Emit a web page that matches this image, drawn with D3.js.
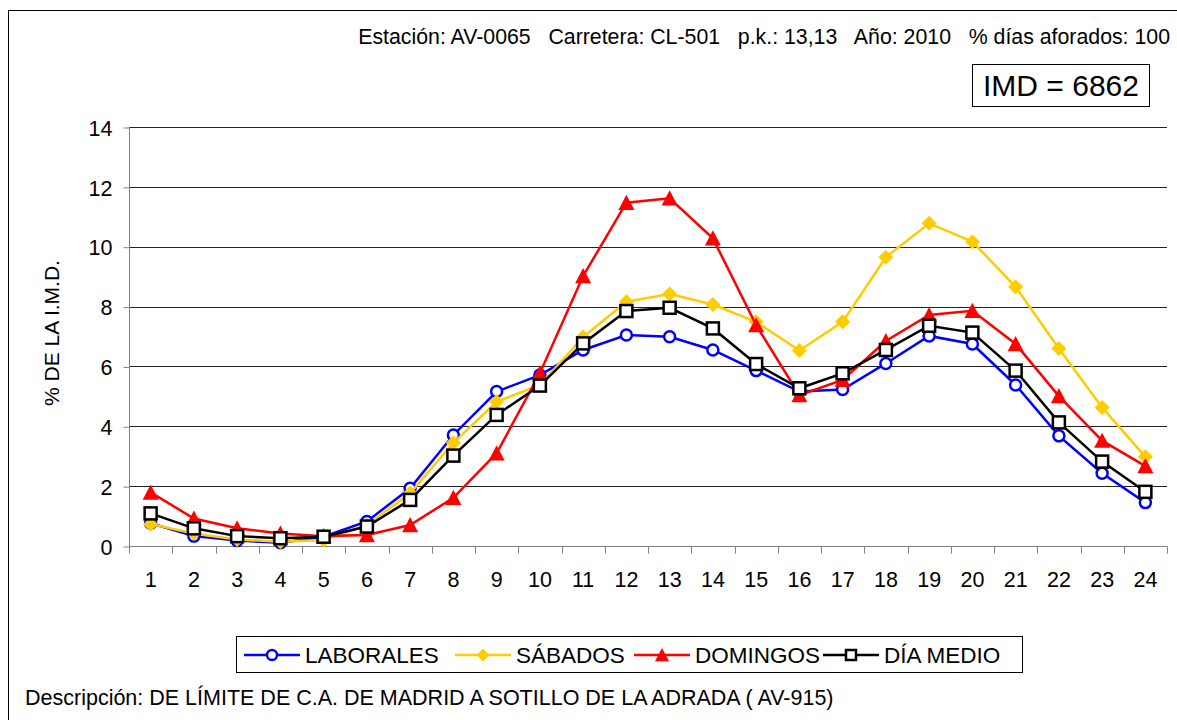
<!DOCTYPE html>
<html>
<head>
<meta charset="utf-8">
<script src="https://cdn.jsdelivr.net/npm/d3@7"></script>
<style>
  body { margin: 0; background: #fff; }
  svg text { font-family: "Liberation Sans", Arial, sans-serif; fill: #000; }
</style>
</head>
<body>
<div id="chart"></div>
<script>
// hourly distribution, % of IMD
var hours = ["1","2","3","4","5","6","7","8","9","10","11","12","13","14","15","16","17","18","19","20","21","22","23","24"];
var laborales = [0.76,0.33,0.18,0.11,0.31,0.82,1.93,3.71,5.16,5.71,6.55,7.05,6.99,6.55,5.86,5.16,5.23,6.10,7.02,6.75,5.38,3.68,2.43,1.45];
var sabados   = [0.73,0.42,0.22,0.14,0.20,0.70,1.76,3.45,4.82,5.38,6.98,8.16,8.42,8.07,7.49,6.53,7.49,9.65,10.78,10.17,8.66,6.60,4.63,2.98];
var domingos  = [1.79,0.92,0.59,0.42,0.33,0.37,0.70,1.61,3.10,5.77,9.02,11.47,11.62,10.28,7.38,5.04,5.55,6.85,7.72,7.86,6.75,5.01,3.52,2.67];
var diaMedio  = [1.09,0.59,0.33,0.26,0.31,0.65,1.54,3.02,4.38,5.36,6.77,7.85,7.96,7.27,6.08,5.27,5.77,6.55,7.36,7.13,5.86,4.13,2.82,1.81];
var seriesNames = ["LABORALES","SÁBADOS","DOMINGOS","DÍA MEDIO"];
var yTicks = [0,2,4,6,8,10,12,14];

var headerText = "Estación: AV-0065   Carretera: CL-501   p.k.: 13,13   Año: 2010   % días aforados: 100";
var imdText = "IMD = 6862";
var descText = "Descripción: DE LÍMITE DE C.A. DE MADRID A SOTILLO DE LA ADRADA ( AV-915)";

var W = 1177, H = 720;
var svg = d3.select("#chart").append("svg")
    .attr("width", W)
    .attr("height", H);

// outer frame (right and bottom edges run off the picture)
svg.append("rect")
    .attr("x", 8.5).attr("y", 10.5)
    .attr("width", W).attr("height", H)
    .attr("fill", "none").attr("stroke", "#000").attr("stroke-width", 1);

var x = d3.scaleBand().domain(hours).range([129, 1167]);
var y = d3.scaleLinear().domain([0, 14]).range([546, 127]);
function cx(i){ return x(hours[i]) + x.bandwidth() / 2; }

// gridlines
svg.append("g").selectAll("line")
    .data(yTicks.filter(function(t){ return t > 0; }))
    .enter().append("line")
    .attr("x1", 129).attr("x2", 1167)
    .attr("y1", function(d){ return Math.round(y(d)) + 0.5; })
    .attr("y2", function(d){ return Math.round(y(d)) + 0.5; })
    .attr("stroke", "#222").attr("stroke-width", 1);

// axes
var yAxis = svg.append("g")
    .attr("transform", "translate(129.5,0.5)")
    .call(d3.axisLeft(y).tickValues(yTicks).tickSize(6).tickPadding(11).tickFormat(d3.format("d")));
yAxis.select(".domain").attr("stroke", "#808080").attr("d", "M0," + y(14) + "V" + y(0));
yAxis.selectAll(".tick line").attr("stroke", "#808080");
yAxis.selectAll(".tick text").style("font-size", "21.5px").attr("dy", "0.36em");

var xAxis = svg.append("g")
    .attr("transform", "translate(0,546.5)")
    .call(d3.axisBottom(x).tickSize(0).tickPadding(25));
xAxis.select(".domain").attr("stroke", "#808080").attr("d", "M129,0H1167");
xAxis.selectAll(".tick text").style("font-size", "21.5px");
// category boundary ticks
xAxis.append("g").selectAll("line")
    .data(hours.concat(["end"]))
    .enter().append("line")
    .attr("x1", function(d, i){ return Math.round(129 + i * x.bandwidth()) + 0.5; })
    .attr("x2", function(d, i){ return Math.round(129 + i * x.bandwidth()) + 0.5; })
    .attr("y1", 0).attr("y2", 7)
    .attr("stroke", "#808080");

// y axis title
svg.append("text")
    .attr("transform", "translate(59,333) rotate(-90)")
    .attr("text-anchor", "middle")
    .style("font-size", "21px")
    .text("% DE LA I.M.D.");

// marker shapes
function circleMark(g, col){
    g.append("circle").attr("r", 5.5).attr("fill", "#fff").attr("stroke", col).attr("stroke-width", 2.5);
}
function diamondMark(g, col, s){
    s = s || 7.5;
    g.append("path").attr("d", "M0," + (-s) + "L" + s + ",0L0," + s + "L" + (-s) + ",0Z").attr("fill", col);
}
function triangleMark(g, col, s){
    s = s || 8;
    g.append("path").attr("d", "M0," + (-s) + "L" + s + "," + s * 0.9 + "L" + (-s) + "," + s * 0.9 + "Z").attr("fill", col);
}
function squareMark(g, col, s){
    s = s || 6;
    g.append("rect").attr("x", -s).attr("y", -s).attr("width", 2 * s).attr("height", 2 * s)
        .attr("fill", "#fff").attr("stroke", col).attr("stroke-width", 2.5);
}

var seriesData = [laborales, sabados, domingos, diaMedio];
var colors = ["#0000ff", "#ffcc00", "#ff0000", "#000000"];
var marks = [circleMark, diamondMark, triangleMark, squareMark];

var line = d3.line()
    .x(function(d, i){ return cx(i); })
    .y(function(d){ return y(d); });

seriesData.forEach(function(vals, k){
    var g = svg.append("g");
    g.append("path")
        .datum(vals)
        .attr("d", line)
        .attr("fill", "none")
        .attr("stroke", colors[k])
        .attr("stroke-width", 2.5);
    g.selectAll("g.pt")
        .data(vals)
        .enter().append("g")
        .attr("class", "pt")
        .attr("transform", function(d, i){ return "translate(" + cx(i) + "," + y(d) + ")"; })
        .each(function(){ marks[k](d3.select(this), colors[k]); });
});

// header
svg.append("text")
    .attr("x", 1170).attr("y", 44)
    .attr("text-anchor", "end")
    .style("font-size", "21.3px")
    .style("white-space", "pre")
    .text(headerText);

svg.append("rect")
    .attr("x", 972.5).attr("y", 64.5)
    .attr("width", 177).attr("height", 42)
    .attr("fill", "#fff").attr("stroke", "#000");
svg.append("text")
    .attr("x", 1061).attr("y", 96)
    .attr("text-anchor", "middle")
    .style("font-size", "30px")
    .text(imdText);

// legend
var legend = svg.append("g");
legend.append("rect")
    .attr("x", 236.5).attr("y", 636.5)
    .attr("width", 786).attr("height", 36)
    .attr("fill", "#fff").attr("stroke", "#000");
var legendX = [244, 455, 634, 823];
seriesNames.forEach(function(name, k){
    var item = legend.append("g").attr("transform", "translate(" + legendX[k] + ",655)");
    item.append("line").attr("x1", 0).attr("x2", 56).attr("y1", 0).attr("y2", 0)
        .attr("stroke", colors[k]).attr("stroke-width", 2.5);
    var m = item.append("g").attr("transform", "translate(28,0)");
    if (k === 0) m.append("circle").attr("r", 5).attr("fill", "#fff").attr("stroke", colors[k]).attr("stroke-width", 2.5);
    if (k === 1) diamondMark(m, colors[k], 6.5);
    if (k === 2) triangleMark(m, colors[k], 7);
    if (k === 3) squareMark(m, colors[k], 5);
    item.append("text")
        .attr("x", 61).attr("y", 8)
        .style("font-size", "22.5px")
        .text(name);
});

// description
svg.append("text")
    .attr("x", 25).attr("y", 705)
    .style("font-size", "21.5px")
    .text(descText);
</script>
</body>
</html>
